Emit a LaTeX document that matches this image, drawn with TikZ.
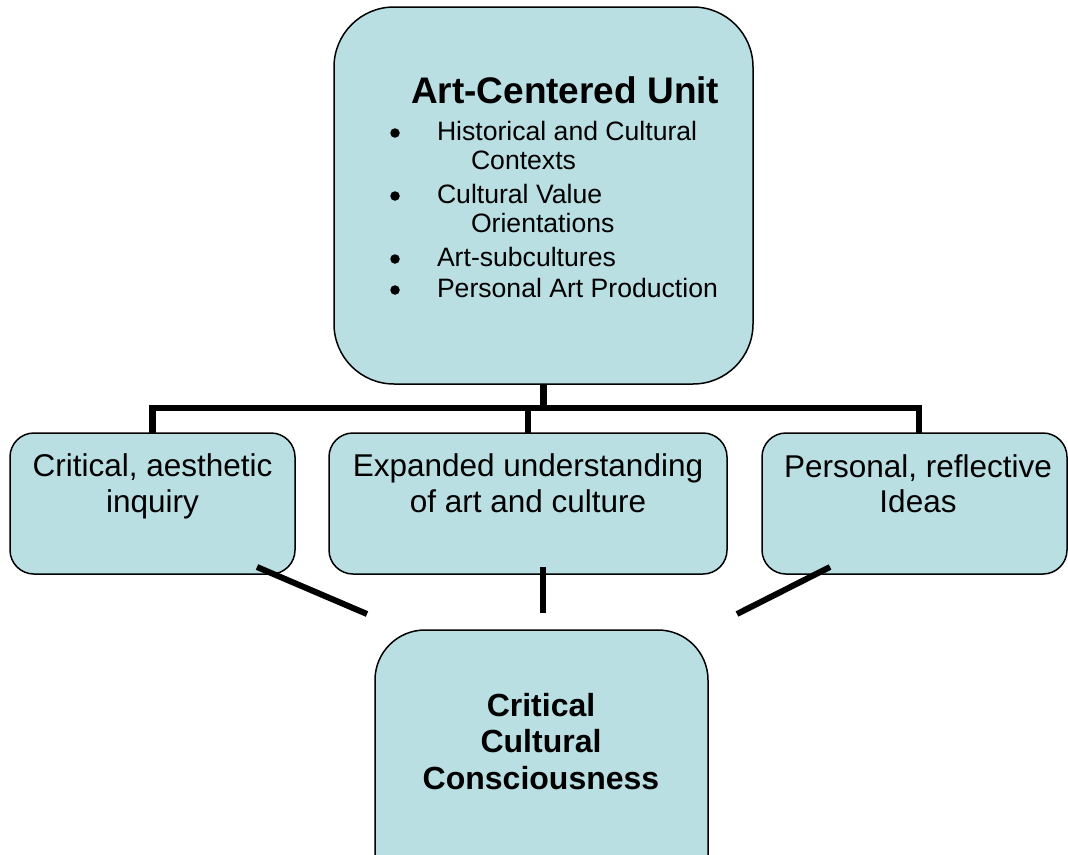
\documentclass[tikz,border=0pt]{standalone}
\usepackage{fontspec}
\setmainfont{Liberation Sans}
\definecolor{boxfill}{RGB}{185,223,227}
\begin{document}
\begin{tikzpicture}[x=1pt,y=-1pt,
  box/.style={draw=black, line width=1.5pt, fill=boxfill, inner sep=0pt, outer sep=0pt},
  link/.style={draw=black, line width=6.5pt, line cap=butt, line join=miter},
  txt/.style={inner sep=0pt, outer sep=0pt, anchor=base},
  dot/.style={circle, fill=black, inner sep=0pt, minimum size=9.5pt},
  titlefont/.style={font=\bfseries\fontsize{37}{44}\selectfont},
  itemfont/.style={font=\fontsize{26.6}{31}\selectfont},
  midfont/.style={font=\fontsize{31.5}{36}\selectfont},
  goalfont/.style={font=\bfseries\fontsize{32}{37}\selectfont}]
\useasboundingbox (0,0) rectangle (1068,854);
\clip (0,0) rectangle (1068,854);
\fill[white] (0,0) rectangle (1068,854);

% boxes
\node[box, rounded corners=60, minimum width=419, minimum height=377] (unit) at (543.5,195.5) {};
\node[box, rounded corners=24, minimum width=285, minimum height=141] (lbox) at (152.5,503.5) {};
\node[box, rounded corners=24, minimum width=398, minimum height=141] (mbox) at (528,503.5) {};
\node[box, rounded corners=24, minimum width=305, minimum height=141] (rbox) at (914.5,503.5) {};
\node[box, rounded corners=50, minimum width=333, minimum height=300] (goal) at (541.5,780) {};

% tree connectors from the unit box down to the three outcomes
\coordinate (bus) at (543,408);
\coordinate (rtop) at (919,433);
\draw[link] (unit.south) -- ++(0,27.25);
\draw[link] (lbox.north) |- (bus) -| (rtop);
\draw[link] (mbox.north) -- ++(0,-28.25);

% short strokes leading toward the goal box
\coordinate (l1) at (257,567);
\coordinate (l2) at (367,614);
\coordinate (m1) at (543,567);
\coordinate (m2) at (543,613);
\coordinate (r1) at (830,567);
\coordinate (r2) at (737,614);
\draw[link, line width=6pt] (l1) -- (l2);
\draw[link, line width=6pt] (m1) -- (m2);
\draw[link, line width=6pt] (r1) -- (r2);

% unit box contents
\node[txt, anchor=base west, titlefont] (title) at (411,103) {Art-Centered Unit};
\node[dot] (d1) at (395,133) {};
\node[dot] (d2) at (395,196) {};
\node[dot] (d3) at (395,259) {};
\node[dot] (d4) at (395,290) {};
\node[txt, anchor=base west, itemfont] (i1a) at (437,140) {Historical and Cultural};
\node[txt, anchor=base west, itemfont] (i1b) at (471,169) {Contexts};
\node[txt, anchor=base west, itemfont] (i2a) at (437,203) {Cultural Value};
\node[txt, anchor=base west, itemfont] (i2b) at (471,232) {Orientations};
\node[txt, anchor=base west, itemfont] (i3) at (437,266) {Art-subcultures};
\node[txt, anchor=base west, itemfont] (i4) at (437,297) {Personal Art Production};

% outcome labels
\node[txt, midfont] (la) at (152.5,476) {Critical, aesthetic};
\node[txt, midfont] (lb) at (152.5,512) {inquiry};
\node[txt, midfont] (ma) at (528,476) {Expanded understanding};
\node[txt, midfont] (mb) at (528,512) {of art and culture};
\node[txt, midfont] (ra) at (918,477) {Personal, reflective};
\node[txt, midfont] (rb) at (918,512) {Ideas};

% goal label
\node[txt, goalfont] (ga) at (541,716) {Critical};
\node[txt, goalfont] (gb) at (541,752.5) {Cultural};
\node[txt, goalfont] (gc) at (541,789) {Consciousness};
\end{tikzpicture}
\end{document}
